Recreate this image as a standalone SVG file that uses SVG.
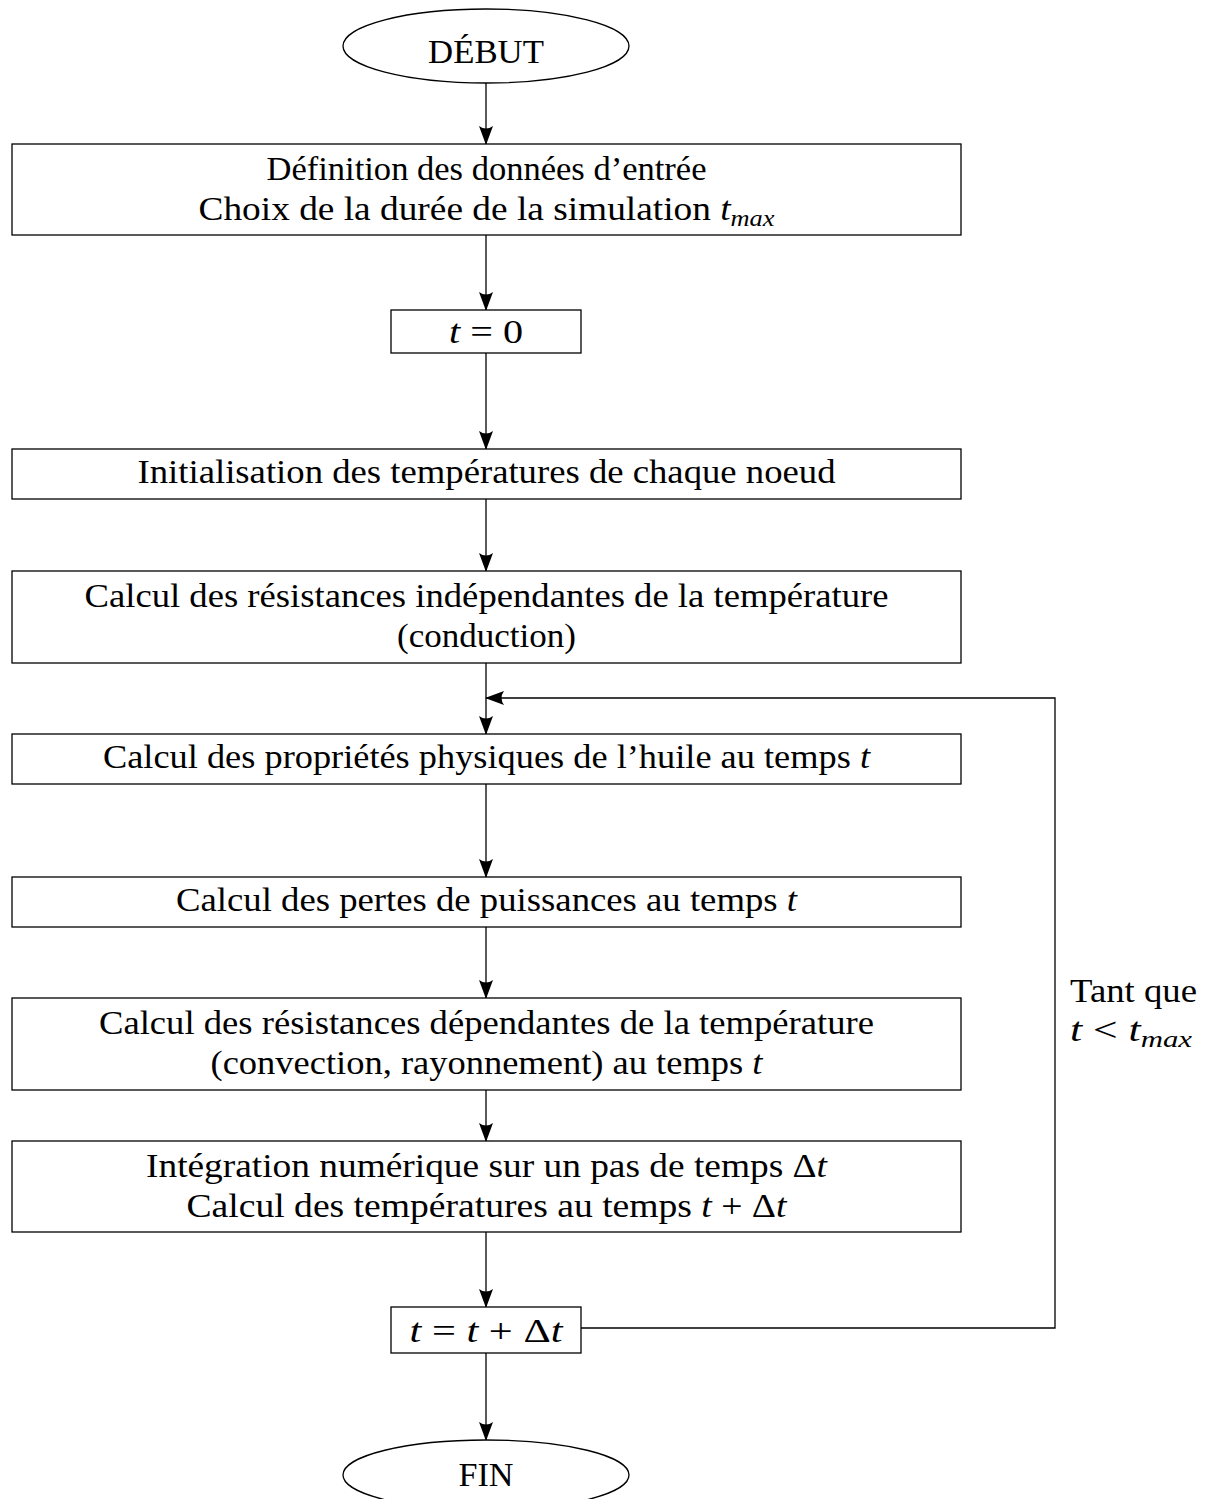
<svg xmlns="http://www.w3.org/2000/svg" width="1211" height="1499" viewBox="0 0 1211 1499">
<style>
.bx{fill:#fff;stroke:#000;stroke-width:1.3}
.t{font-family:"Liberation Serif","Times New Roman",serif;font-size:34px;fill:#000;text-anchor:middle}
.tl{font-family:"Liberation Serif","Times New Roman",serif;font-size:34px;fill:#000;text-anchor:start}
.i{font-style:italic}
.s{font-style:italic;font-size:24px}
.c{fill:none;stroke:#000;stroke-width:1.3}
</style>
<defs>
<marker id="arr" viewBox="0 0 20 14" refX="19" refY="7" markerWidth="20" markerHeight="14" orient="auto" markerUnits="userSpaceOnUse">
<path d="M20,7 L1,0 Q6,7 1,14 Z" fill="#000"/>
</marker>
</defs>
<rect width="1211" height="1499" fill="#fff"/>
<g id="connectors">
<line class="c" x1="486" y1="83" x2="486" y2="144" marker-end="url(#arr)"/>
<line class="c" x1="486" y1="235" x2="486" y2="310" marker-end="url(#arr)"/>
<line class="c" x1="486" y1="353" x2="486" y2="449" marker-end="url(#arr)"/>
<line class="c" x1="486" y1="499" x2="486" y2="571" marker-end="url(#arr)"/>
<line class="c" x1="486" y1="663" x2="486" y2="734" marker-end="url(#arr)"/>
<line class="c" x1="486" y1="784" x2="486" y2="877" marker-end="url(#arr)"/>
<line class="c" x1="486" y1="927" x2="486" y2="998" marker-end="url(#arr)"/>
<line class="c" x1="486" y1="1090" x2="486" y2="1141" marker-end="url(#arr)"/>
<line class="c" x1="486" y1="1232" x2="486" y2="1307" marker-end="url(#arr)"/>
<line class="c" x1="486" y1="1353" x2="486" y2="1440" marker-end="url(#arr)"/>
<polyline class="c" points="581,1328 1055,1328 1055,698 486,698" marker-end="url(#arr)"/>
<text class="tl" x="1070" y="1002" textLength="127" lengthAdjust="spacingAndGlyphs">Tant que</text>
<text class="tl" x="1070" y="1041" textLength="122" lengthAdjust="spacingAndGlyphs"><tspan class="i">t</tspan> &lt; <tspan class="i">t</tspan><tspan class="s" dy="6">max</tspan></text>
</g>
<g id="debut">
<ellipse class="bx" cx="486" cy="46" rx="143" ry="37"/>
<text class="t" x="486" y="63" textLength="116" lengthAdjust="spacingAndGlyphs">DÉBUT</text>
</g>
<g id="donnees">
<rect class="bx" x="12" y="144" width="949" height="91"/>
<text class="t" x="486.5" y="180" textLength="440" lengthAdjust="spacingAndGlyphs">Définition des données d’entrée</text>
<text class="t" x="486.5" y="220" textLength="576" lengthAdjust="spacingAndGlyphs">Choix de la durée de la simulation <tspan class="i">t</tspan><tspan class="s" dy="6">max</tspan></text>
</g>
<g id="t0">
<rect class="bx" x="391" y="310" width="190" height="43"/>
<text class="t" x="486" y="343" textLength="74" lengthAdjust="spacingAndGlyphs"><tspan class="i">t</tspan> = 0</text>
</g>
<g id="init">
<rect class="bx" x="12" y="449" width="949" height="50"/>
<text class="t" x="486.5" y="483" textLength="698" lengthAdjust="spacingAndGlyphs">Initialisation des températures de chaque noeud</text>
</g>
<g id="resind">
<rect class="bx" x="12" y="571" width="949" height="92"/>
<text class="t" x="486.5" y="607" textLength="804" lengthAdjust="spacingAndGlyphs">Calcul des résistances indépendantes de la température</text>
<text class="t" x="486.5" y="647" textLength="179" lengthAdjust="spacingAndGlyphs">(conduction)</text>
</g>
<g id="huile">
<rect class="bx" x="12" y="734" width="949" height="50"/>
<text class="t" x="486.5" y="768" textLength="767" lengthAdjust="spacingAndGlyphs">Calcul des propriétés physiques de l’huile au temps <tspan class="i">t</tspan></text>
</g>
<g id="pertes">
<rect class="bx" x="12" y="877" width="949" height="50"/>
<text class="t" x="486.5" y="911" textLength="621" lengthAdjust="spacingAndGlyphs">Calcul des pertes de puissances au temps <tspan class="i">t</tspan></text>
</g>
<g id="resdep">
<rect class="bx" x="12" y="998" width="949" height="92"/>
<text class="t" x="486.5" y="1034" textLength="775" lengthAdjust="spacingAndGlyphs">Calcul des résistances dépendantes de la température</text>
<text class="t" x="486.5" y="1074" textLength="552" lengthAdjust="spacingAndGlyphs">(convection, rayonnement) au temps <tspan class="i">t</tspan></text>
</g>
<g id="integ">
<rect class="bx" x="12" y="1141" width="949" height="91"/>
<text class="t" x="486.5" y="1177" textLength="681" lengthAdjust="spacingAndGlyphs">Intégration numérique sur un pas de temps Δ<tspan class="i">t</tspan></text>
<text class="t" x="486.5" y="1217" textLength="600" lengthAdjust="spacingAndGlyphs">Calcul des températures au temps <tspan class="i">t</tspan> + Δ<tspan class="i">t</tspan></text>
</g>
<g id="tdt">
<rect class="bx" x="391" y="1307" width="190" height="46"/>
<text class="t" x="486" y="1342" textLength="153" lengthAdjust="spacingAndGlyphs"><tspan class="i">t</tspan> = <tspan class="i">t</tspan> + Δ<tspan class="i">t</tspan></text>
</g>
<g id="fin">
<ellipse class="bx" cx="486" cy="1475" rx="143" ry="35"/>
<text class="t" x="486" y="1486" textLength="55" lengthAdjust="spacingAndGlyphs">FIN</text>
</g>
</svg>
